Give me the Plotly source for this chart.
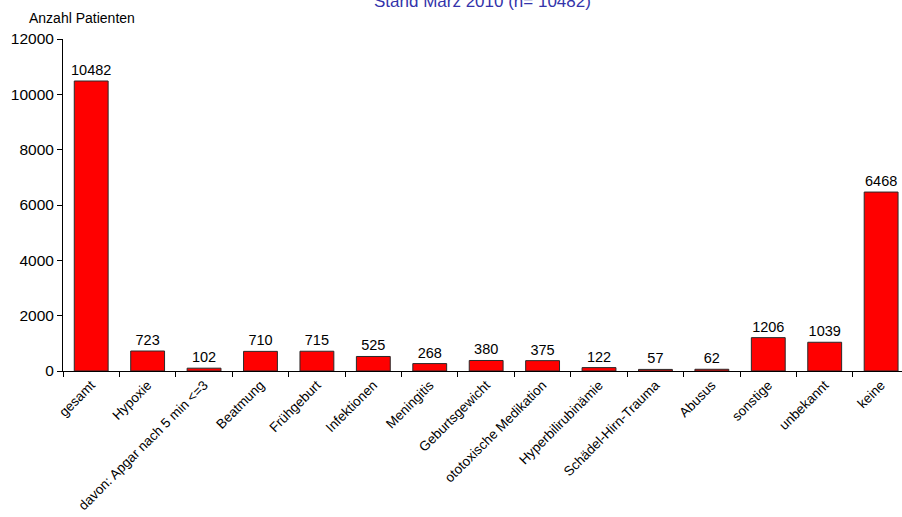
import plotly.graph_objects as go

# Patient counts per cause category
categories = [
    "gesamt", "Hypoxie", "davon: Apgar nach 5 min <=3", "Beatmung", "Frühgeburt",
    "Infektionen", "Meningitis", "Geburtsgewicht", "ototoxische Medikation",
    "Hyperbilirubinämie", "Schädel-Hirn-Trauma", "Abusus", "sonstige",
    "unbekannt", "keine",
]
patients = [10482, 723, 102, 710, 715, 525, 268, 380, 375, 122, 57, 62, 1206, 1039, 6468]
y_ticks = [0, 2000, 4000, 6000, 8000, 10000, 12000]

FONT = "Liberation Sans, Arial, sans-serif"

fig = go.Figure(
    go.Bar(
        x=categories,
        y=patients,
        marker=dict(color="#ff0000", line=dict(color="#2a2a2a", width=1)),
        text=[str(v) for v in patients],
        textposition="outside",
        constraintext="none",
        textfont=dict(family=FONT, size=14.5, color="#000000"),
        cliponaxis=False,
    )
)

fig.update_layout(
    width=902,
    height=517,
    margin=dict(l=63, r=0, t=39, b=146),
    paper_bgcolor="white",
    plot_bgcolor="white",
    bargap=0.4,
    showlegend=False,
    font=dict(family=FONT, size=14, color="#000000"),
    xaxis=dict(
        range=[-0.5, 14.37],
        tickangle=-45,
        automargin=False,
        showline=True,
        linecolor="#000000",
        linewidth=1,
        ticks="outside",
        tickson="boundaries",
        ticklen=5,
        tickcolor="#000000",
        showgrid=False,
        tickfont=dict(family=FONT, size=13.5, color="#000000"),
    ),
    yaxis=dict(
        range=[0, 12000],
        tickvals=y_ticks,
        tickformat="d",
        automargin=False,
        showline=True,
        linecolor="#000000",
        linewidth=1,
        ticks="outside",
        ticklen=5,
        tickcolor="#000000",
        showgrid=False,
        zeroline=False,
        tickfont=dict(family=FONT, size=15.5, color="#000000"),
    ),
    annotations=[
        dict(
            text="Anzahl Patienten",
            xref="paper", yref="paper",
            x=-0.043, y=1.063,
            xanchor="left", yanchor="middle",
            showarrow=False,
            font=dict(family=FONT, size=14, color="#000000"),
        ),
        dict(
            text="Stand März 2010 (n= 10482)",
            xref="paper", yref="paper",
            x=0.5, y=1.112,
            xanchor="center", yanchor="middle",
            showarrow=False,
            font=dict(family=FONT, size=17, color="#3333aa"),
        ),
    ],
)

fig.write_html("out.html")
